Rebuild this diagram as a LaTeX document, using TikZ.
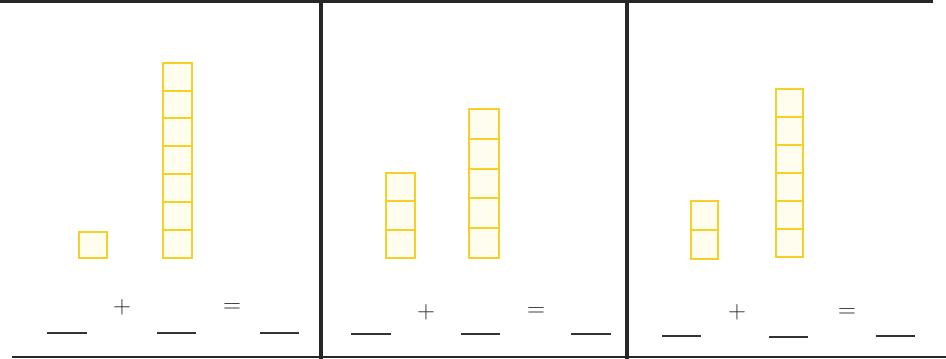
\documentclass[tikz,border=0pt]{standalone}
\usepackage{tikz}
\usetikzlibrary{positioning}
\definecolor{cubeline}{RGB}{244,208,40}
\definecolor{cubefill}{RGB}{255,253,238}

\begin{document}
\begin{tikzpicture}[x=1pt, y=-1pt,
  cube/.style={
    draw=cubeline, fill=cubefill, line width=2pt,
    minimum width=28pt, minimum height=28pt,
    inner sep=0pt, outer sep=0pt},
  frame/.style={line width=3.2pt, black!85},
  blank/.style={line width=1.8pt, black!80},
  sym/.style={inner sep=0pt, text=black!85,
    font=\fontsize{30}{30}\selectfont}]

\useasboundingbox (0,0) rectangle (946,359);

% Frame and dividers
\draw[frame] (0,1.4) -- (933,1.4);
\draw[line width=2pt, black!85] (12,357) -- (946,357);
\draw[frame] (321,0) -- (321,359);
\draw[frame] (627,0) -- (627,359);

% Panel 1 — one and seven
\node[cube, minimum height=26pt] (a) at (93,245) {};
\node[cube, minimum width=29pt, minimum height=27.9pt] (b1) at (177.5,244) {};
\foreach \i [count=\j from 2] in {1,...,6}
  \node[cube, minimum width=29pt, minimum height=27.9pt,
    above=0pt of b\i] (b\j) {};

% Panel 2 — three and five
\node[cube, minimum width=29pt, minimum height=28.3pt] (c1) at (400.5,243.8) {};
\foreach \i [count=\j from 2] in {1,2}
  \node[cube, minimum width=29pt, minimum height=28.3pt,
    above=0pt of c\i] (c\j) {};
\node[cube, minimum width=30pt, minimum height=29.8pt] (d1) at (484,243.1) {};
\foreach \i [count=\j from 2] in {1,...,4}
  \node[cube, minimum width=30pt, minimum height=29.8pt,
    above=0pt of d\i] (d\j) {};

% Panel 3 — two and six
\node[cube, minimum width=27pt, minimum height=29pt] (e1) at (704.5,244.5) {};
\node[cube, minimum width=27pt, minimum height=29pt, above=0pt of e1] (e2) {};
\node[cube, minimum width=27pt, minimum height=28pt] (f1) at (789.5,243) {};
\foreach \i [count=\j from 2] in {1,...,5}
  \node[cube, minimum width=27pt, minimum height=28pt,
    above=0pt of f\i] (f\j) {};

% Sums to fill in
\node[sym] (p1) at (122,307) {$+$};
\node[sym] (q1) at (232,308) {$=$};
\draw[blank] (47,333) -- (87,333);
\draw[blank] (157,333) -- (196,333);
\draw[blank] (260,333) -- (299,333);

\node[sym] (p2) at (426,312) {$+$};
\node[sym] (q2) at (536,312) {$=$};
\draw[blank] (351,334) -- (391,334);
\draw[blank] (461,334) -- (500,334);
\draw[blank] (571,334) -- (611,334);

\node[sym] (p3) at (737,312) {$+$};
\node[sym] (q3) at (847,313) {$=$};
\draw[blank] (662,336) -- (701,336);
\draw[blank] (769,337) -- (808,337);
\draw[blank] (876,336) -- (915,336);

\end{tikzpicture}
\end{document}
